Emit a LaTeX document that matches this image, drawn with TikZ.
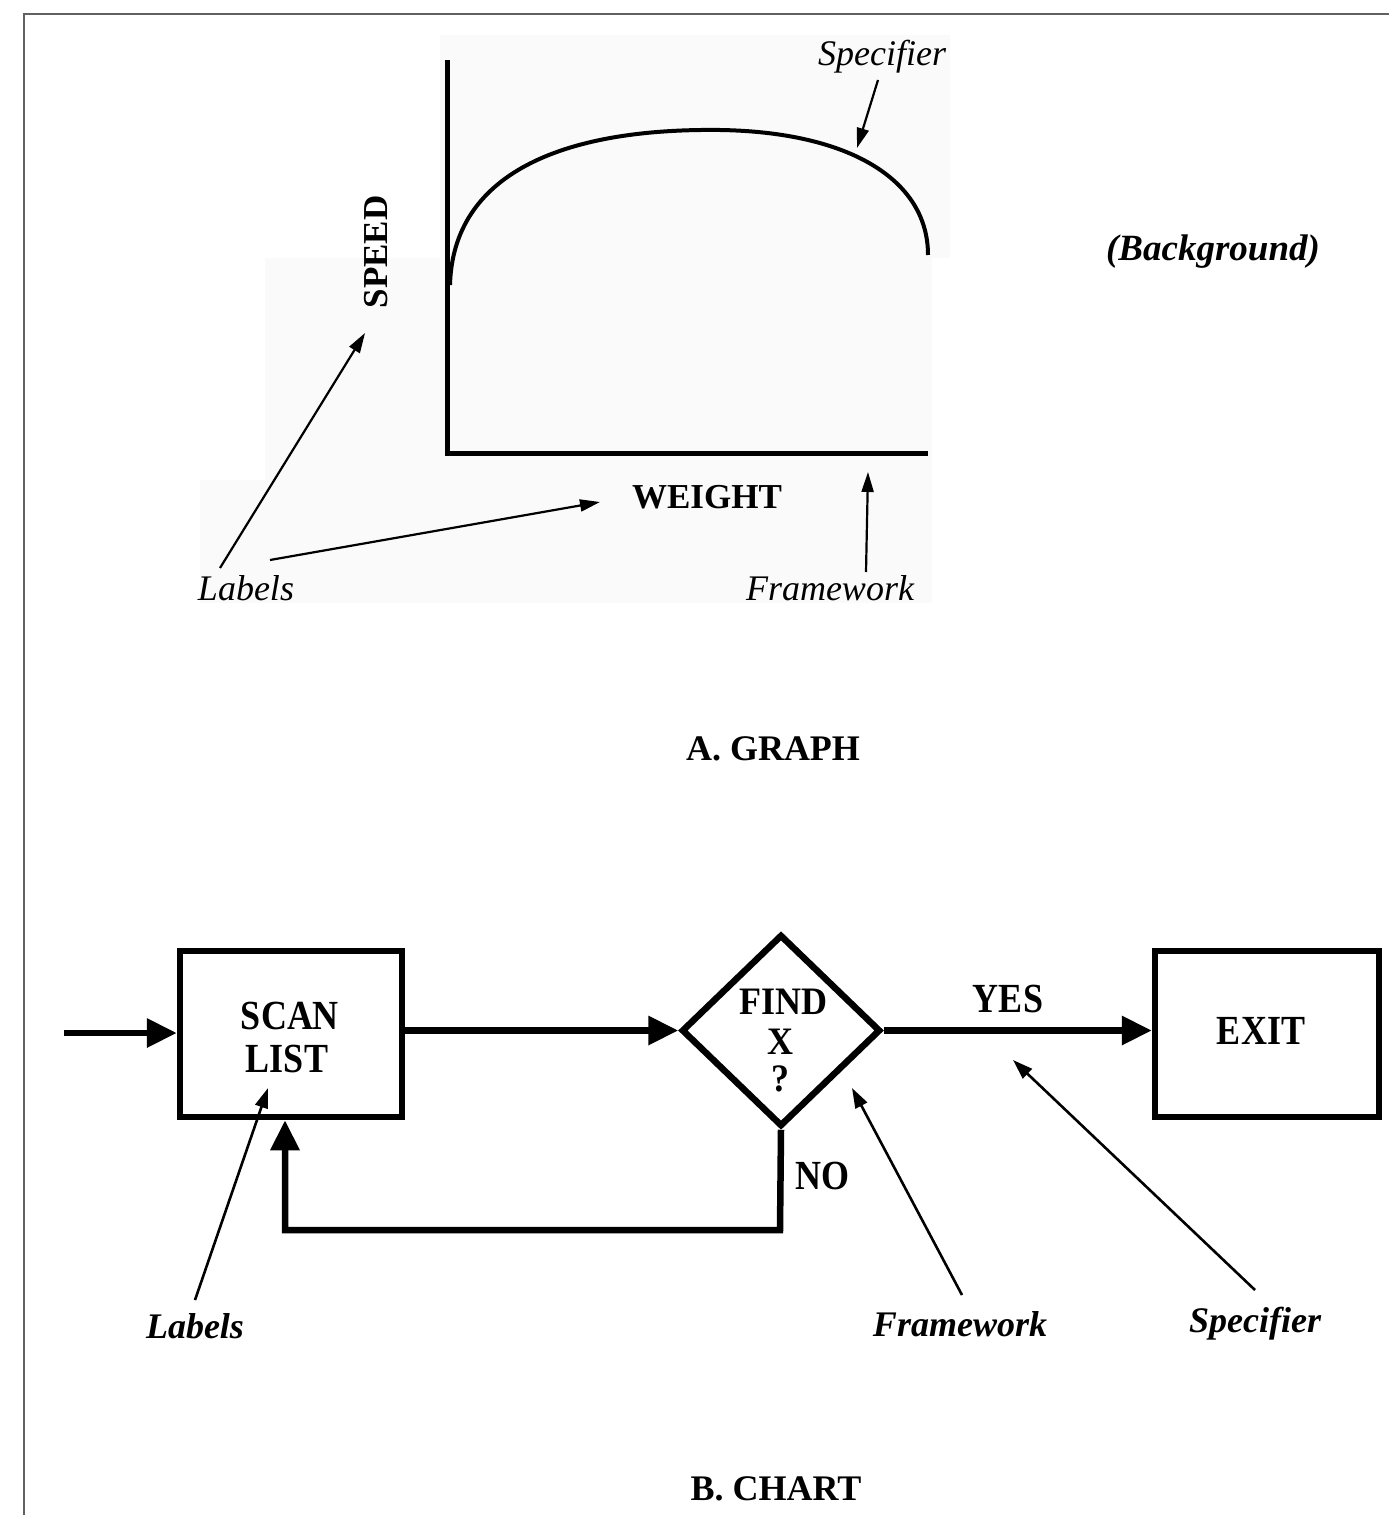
\documentclass[tikz,border=0pt]{standalone}
\usepackage{fontspec}
\usepackage{graphicx}
\setmainfont{Liberation Serif}
\usetikzlibrary{arrows.meta,shapes.geometric}
\newcommand{\tallt}[1]{\scalebox{1}[1.15]{#1}}
\newcommand{\tallx}[1]{\scalebox{1}[1.08]{#1}}
\begin{document}
\begin{tikzpicture}[x=1pt,y=-1pt,
  bigarrow/.style={line width=6.5pt,-{Triangle[length=30pt,width=28pt]}},
  thinarrow/.style={line width=2.6pt,-{Triangle[length=20pt,width=13pt]}},
  grapharrow/.style={line width=2.2pt,-{Triangle[length=20pt,width=12pt]}},
  chartbox/.style={draw,line width=6.5pt,inner sep=0pt,minimum width=222pt,minimum height=166pt},
  boldlbl/.style={font=\fontsize{36}{38}\selectfont\bfseries,inner sep=0pt},
  itlbl/.style={font=\fontsize{36}{38}\selectfont\bfseries\itshape,inner sep=0pt},
  gitlbl/.style={font=\fontsize{36}{38}\selectfont\itshape,inner sep=0pt},
  gbold/.style={font=\fontsize{35}{37}\selectfont\bfseries,inner sep=0pt},
  caption/.style={font=\fontsize{36}{38}\selectfont\bfseries,inner sep=0pt}]
\useasboundingbox (0,0) rectangle (1389,1515);
\fill[white] (0,0) rectangle (1389,1515);
% frame
\draw[line width=2.6pt,black!62] (24,1515) -- (24,14) -- (1389,14);
% faint scan background of graph
\fill[black!2] (440,35) rectangle (950,258);
\fill[black!2] (265,258) rectangle (932,603);
\fill[black!2] (200,480) rectangle (300,603);
% ---------- A. GRAPH ----------
\coordinate (ytop) at (447,60);
\coordinate (origin) at (447,453);
\coordinate (xend) at (928,453);
\draw[line width=5pt] (ytop) -- (origin) -- (xend);
\draw[line width=4pt] (450,285) .. controls (453,175) and (560,128) .. (720,130)
  .. controls (850,132) and (928,180) .. (928,255);
\node[gitlbl] (gspec) at (882,57) {Specifier};
\coordinate (gspecstart) at (878,80);
\coordinate (gspectip) at (857,148);
\draw[grapharrow] (gspecstart) -- (gspectip);
\node[gbold,rotate=90] (speed) at (376,252) {SPEED};
\node[gbold] (weight) at (707,497) {WEIGHT};
\node[gitlbl] (glabels) at (246,588) {Labels};
\coordinate (glab1) at (220,568);
\coordinate (glab2) at (270,560);
\coordinate (speedtip) at (365,333);
\coordinate (weighttip) at (600,502);
\draw[grapharrow] (glab1) -- (speedtip);
\draw[grapharrow] (glab2) -- (weighttip);
\node[gitlbl] (gframe) at (830,588) {Framework};
\coordinate (gframestart) at (866,572);
\coordinate (gframetip) at (868,472);
\draw[grapharrow] (gframestart) -- (gframetip);
\node[itlbl,font=\fontsize{37}{39}\selectfont\bfseries\itshape] (bg) at (1213,252) {(Background)};
\node[caption] (capA) at (773,749) {A. GRAPH};
% ---------- B. CHART ----------
\node[chartbox] (scan) at (291,1034) {};
\node[boldlbl] (scan1) at (290,1016) {\tallt{SCAN}};
\node[boldlbl] (scan2) at (287,1059) {\tallt{LIST}};
\node[draw,diamond,line width=6.5pt,inner sep=0pt,minimum width=199pt,minimum height=192pt] (find) at (781,1030.5) {};
\node[boldlbl] (find1) at (783,1002) {\tallx{FIND}};
\node[boldlbl] (find2) at (780,1042) {\tallx{X}};
\node[boldlbl] (find3) at (780,1079) {\tallx{?}};
\node[chartbox,minimum width=224pt] (exit) at (1267,1034) {};
\node[boldlbl] (exittxt) at (1261,1031) {\tallt{EXIT}};
\coordinate (in) at (64,1033);
\draw[bigarrow] (in) -- (scan.west |- in);
\draw[bigarrow] (scan.east |- find.west) -- (find.west);
\draw[bigarrow] (find.east) -- (exit.west |- find.east);
\node[boldlbl] (yes) at (1008,999) {\tallt{YES}};
\coordinate (loopc) at (780,1230);
\draw[bigarrow] (find.south) -- (loopc) -| ([xshift=-6pt]scan.south);
\node[boldlbl] (no) at (822,1176) {\tallt{NO}};
\node[itlbl] (clabels) at (195,1326) {Labels};
\coordinate (clabstart) at (195,1300);
\coordinate (clabtip) at (268,1088);
\draw[thinarrow] (clabstart) -- (clabtip);
\node[itlbl] (cframe) at (960,1324) {Framework};
\coordinate (cframestart) at (962,1295);
\coordinate (cframetip) at (852,1088);
\draw[thinarrow] (cframestart) -- (cframetip);
\node[itlbl] (cspec) at (1255,1324) {Specifier};
\coordinate (cspecstart) at (1255,1290);
\coordinate (cspectip) at (1013,1060);
\draw[thinarrow] (cspecstart) -- (cspectip);
\node[caption] (capB) at (776,1489) {B. CHART};
\end{tikzpicture}
\end{document}
